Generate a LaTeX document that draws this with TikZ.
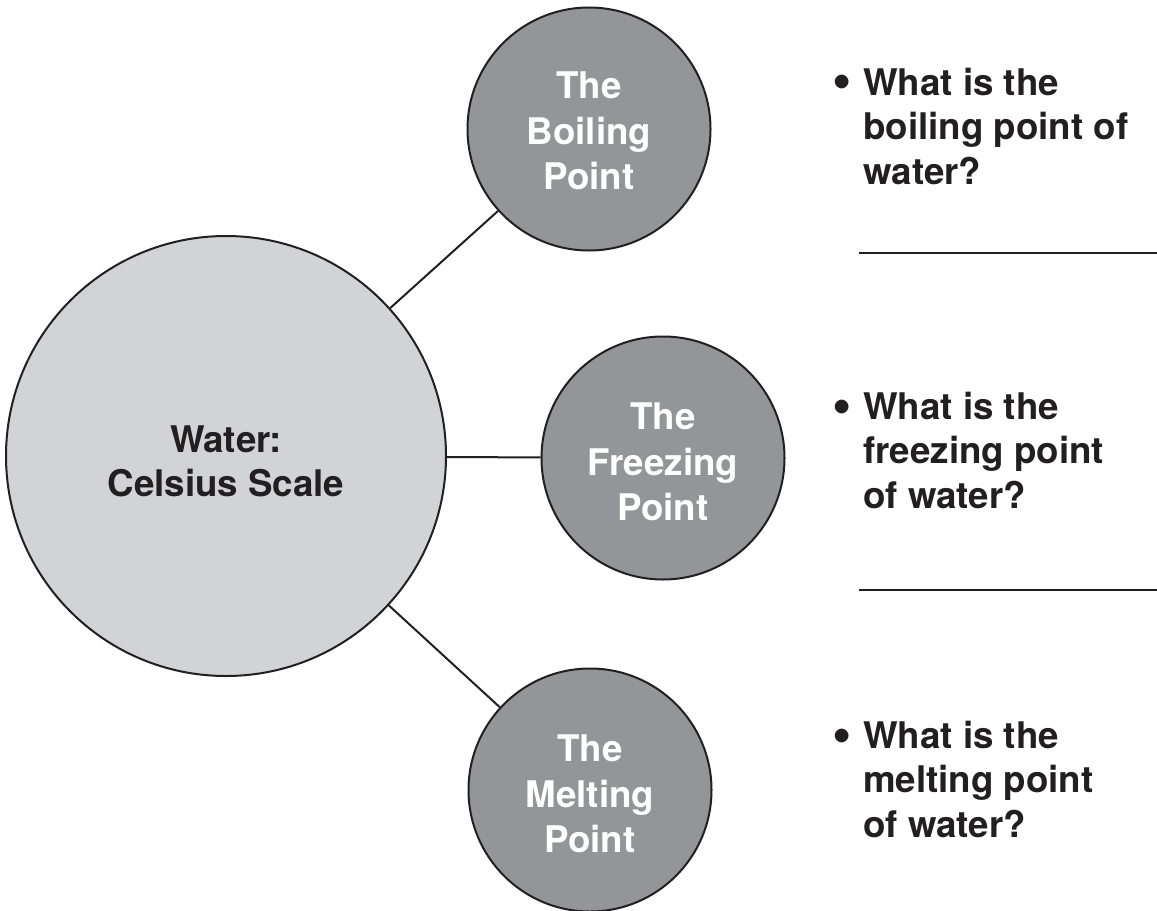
\documentclass[tikz,border=0pt]{standalone}
\usepackage{fontspec}
\setmainfont{TeX Gyre Heros}
\definecolor{ink}{HTML}{231F20}
\definecolor{lightfill}{HTML}{D1D3D4}
\definecolor{darkfill}{HTML}{939598}
\begin{document}
\begin{tikzpicture}[x=1bp,y=-1bp,
  bigcirc/.style={circle, draw=ink, line width=2bp, fill=lightfill, minimum size=440bp, inner sep=0pt},
  smallcirc/.style={circle, draw=ink, line width=2bp, fill=darkfill, minimum size=243bp, inner sep=0pt},
  circtext/.style={text=white, font=\fontsize{36.7bp}{45.5bp}\selectfont\bfseries, align=center, inner sep=0pt},
  maintext/.style={text=ink, font=\fontsize{36.7bp}{44bp}\selectfont\bfseries, align=center, inner sep=0pt},
  question/.style={text=ink, font=\fontsize{36.7bp}{44.5bp}\selectfont\bfseries, align=left, anchor=base west, inner sep=0pt},
  bulletmark/.style={text=ink, font=\fontsize{55bp}{55bp}\selectfont\bfseries, anchor=base west, inner sep=0pt},
  link/.style={draw=ink, line width=2bp},
  answerline/.style={draw=ink, line width=2.5bp}]
\useasboundingbox (0,0) rectangle (1157,911);
% circles
\node[bigcirc] (water) at (226,456) {};
\node[smallcirc] (boil) at (589,129) {};
\node[smallcirc] (freeze) at (663,458) {};
\node[smallcirc] (melt) at (590,790) {};
% connectors
\draw[link] (water) -- (boil);
\draw[link] (water) -- (freeze);
\draw[link] (water) -- (melt);
% circle texts
\node[maintext] (waterT) at (226,461) {Water:\\Celsius Scale};
\node[circtext] (boilT) at (589,131) {The\\Boiling\\Point};
\node[circtext] (freezeT) at (663,462) {The\\Freezing\\Point};
\node[circtext] (meltT) at (590,794) {The\\Melting\\Point};
% questions (base anchor = last line baseline)
\node[bulletmark] (bul1) at (832.5,98.5) {•};
\node[question] (q1) at (863,184) {What is the\\boiling point of\\water?};
\node[bulletmark] (bul2) at (832.5,423) {•};
\node[question] (q2) at (863,508) {What is the\\freezing point\\of water?};
\node[bulletmark] (bul3) at (832.5,752) {•};
\node[question] (q3) at (863,837) {What is the\\melting point\\of water?};
% answer lines
\coordinate (a1s) at (859,253);
\coordinate (a1e) at (1157,253);
\coordinate (a2s) at (859,590);
\coordinate (a2e) at (1157,590);
\draw[answerline] (a1s) -- (a1e);
\draw[answerline] (a2s) -- (a2e);
\end{tikzpicture}
\end{document}
